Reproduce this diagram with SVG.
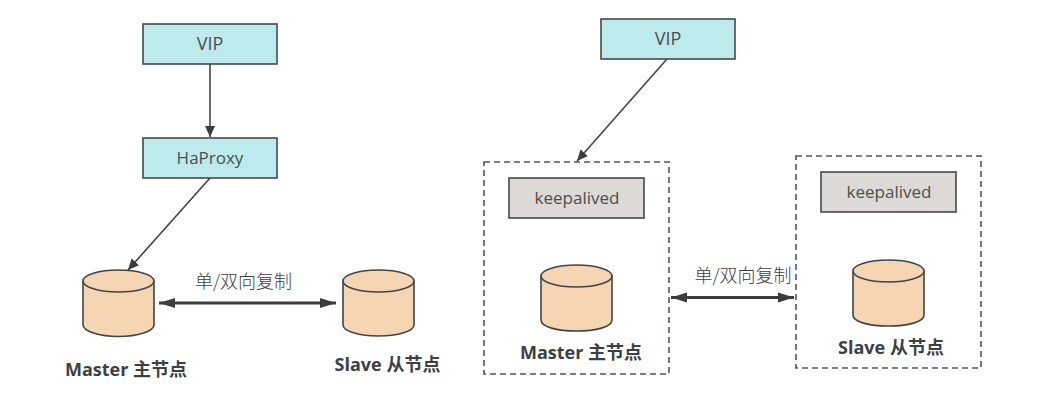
<svg xmlns="http://www.w3.org/2000/svg" width="1053" height="403" viewBox="0 0 1053 403">
<style>
.box{stroke:#45494d;stroke-width:1.6}
.vip{fill:#bdeaea}
.ka{fill:#ddd9d7}
.db{fill:#f5d5b2;stroke:#3f4549;stroke-width:1.6}
.dash{fill:#fff;stroke:#50565a;stroke-width:1.6;stroke-dasharray:6 4}
.t{font-family:"Open Sans","Noto Sans CJK SC",sans-serif;font-size:17px;fill:#4a4f52;text-anchor:middle}
.v{font-size:18px}
.z{font-family:"Noto Sans CJK SC",sans-serif;font-size:18px;font-weight:300;fill:#404040;text-anchor:middle}
.b{font-family:"Open Sans","Noto Sans CJK SC",sans-serif;font-size:18px;font-weight:700;fill:#3c4144;text-anchor:middle}
.c{fill:none;stroke:#444;stroke-width:1.6}
.d{fill:none;stroke:#3c3c3c;stroke-width:3}
</style>
<defs>
<marker id="a" markerUnits="userSpaceOnUse" markerWidth="12" markerHeight="12" refX="11" refY="6" orient="auto"><path d="M0 1L11 6L0 11z" fill="#3c3c3c"/></marker>
<marker id="s" markerUnits="userSpaceOnUse" markerWidth="17" markerHeight="12" refX="16" refY="6" orient="auto-start-reverse"><path d="M0 1L16 6L0 11z" fill="#3c3c3c"/></marker>
</defs>
<rect width="1053" height="403" fill="#fff"/>
<g id="left-vip"><rect class="box vip" x="143" y="24" width="134" height="40"/><text class="t v" x="210" y="50">VIP</text></g>
<g id="left-haproxy"><rect class="box vip" x="143" y="138" width="134" height="40"/><text class="t" x="210" y="164">HaProxy</text></g>
<g id="left-master"><path class="db" d="M83 281V325C83 331 99 336.500 118.500 336.500S154 331 154 325V281"/><ellipse class="db" cx="118.500" cy="281" rx="35.500" ry="11"/><text class="b" x="126" y="376">Master 主节点</text></g>
<g id="left-slave"><path class="db" d="M343 281V325C343 331 359 336 378.500 336S414 331 414 325V281"/><ellipse class="db" cx="378.500" cy="281" rx="35.500" ry="11"/><text class="b" x="387.500" y="371">Slave 从节点</text></g>
<g id="right-vip"><rect class="box vip" x="601" y="19" width="134" height="40"/><text class="t v" x="668" y="45">VIP</text></g>
<g id="right-master-group"><rect class="dash" x="484" y="162" width="185" height="212"/><rect class="box ka" x="509" y="178" width="135" height="40"/><text class="t" x="577" y="204">keepalived</text><path class="db" d="M541 276V320C541 327 557 331 576.500 331S612 327 612 320V276"/><ellipse class="db" cx="576.500" cy="276" rx="35.500" ry="11"/><text class="b" x="581" y="359">Master 主节点</text></g>
<g id="right-slave-group"><rect class="dash" x="796" y="156" width="185" height="212"/><rect class="box ka" x="821" y="172" width="135" height="40"/><text class="t" x="889" y="198">keepalived</text><path class="db" d="M853 271V315C853 322 869 326 888.500 326S924 322 924 315V271"/><ellipse class="db" cx="888.500" cy="271" rx="35.500" ry="11"/><text class="b" x="891" y="354">Slave 从节点</text></g>
<g id="connectors">
<path class="c" d="M210 64V137" marker-end="url(#a)"/>
<path class="c" d="M210 178L128 270" marker-end="url(#a)"/>
<path class="c" d="M667 59L577 161" marker-end="url(#a)"/>
<path class="d" d="M159 303H336" marker-start="url(#s)" marker-end="url(#s)"/>
<path class="d" d="M671 297.500H794" marker-start="url(#s)" marker-end="url(#s)"/>
</g>
<text class="z" x="243.500" y="287.500">单/双向复制</text>
<text class="z" x="743" y="281.500">单/双向复制</text>
</svg>
